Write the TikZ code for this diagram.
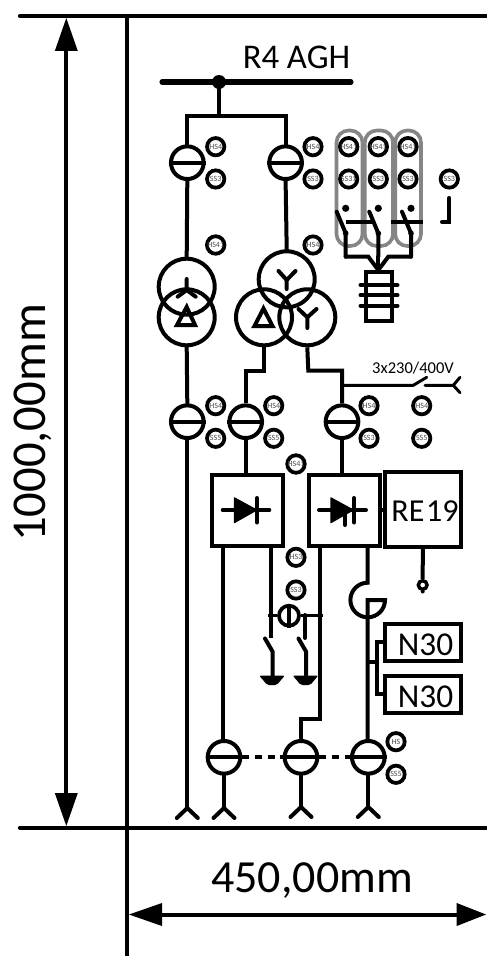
\documentclass[tikz,border=0pt]{standalone}
\usepackage{fontspec}
\setmainfont{Carlito}
\tikzset{
  x=0.75pt,y=-0.75pt,
  wire/.style={line width=3pt,line join=miter,line cap=round},
  frameline/.style={line width=3.2pt,line cap=round},
  tagc/.style={circle,draw,line width=2.8pt,minimum size=13pt,inner sep=0pt,fill=white,font=\fontsize{6}{6}\selectfont,text=black!70},
  brk/.style={circle,draw,line width=3pt,minimum size=24.5pt,inner sep=0pt,fill=white},
  xfmr/.style={circle,draw,line width=3pt,minimum size=42pt,inner sep=0pt},
  panel/.style={draw,line width=3pt,fill=white,inner sep=0pt,outer sep=0pt,anchor=north west},
  grp/.style={draw=black!48,line width=2.7pt,rounded corners=9pt},
}
\newcommand{\fork}[2]{\draw[wire] (#1-10.5,#2+10) -- (#1,#2) -- (#1+10.5,#2+10);}
\newcommand{\gnd}[2]{\fill[rounded corners=1.5pt] (#1-13,#2-1.5) -- (#1+13,#2-1.5) -- (#1+8,#2+4) -- (#1+5,#2+8) -- (#1-5,#2+8) -- (#1-8,#2+4) -- cycle;}
\begin{document}
\begin{tikzpicture}
\useasboundingbox (0,0) rectangle (486,956);
% frame
\coordinate (fl) at (20,16); \coordinate (fr) at (486,16);
\coordinate (bl) at (20,827.7); \coordinate (br) at (486,827.7);
\coordinate (vt) at (127,16); \coordinate (vb) at (127,956);
\draw[frameline] (fl) -- (fr);
\draw[frameline] (bl) -- (br);
\draw[line width=3.2pt] (vt) -- (vb);
% dimensions
\coordinate (dt) at (66.3,18); \coordinate (db) at (66.3,826);
\coordinate (dl) at (129,914.5); \coordinate (dr) at (486,914.5);
\draw[line width=3pt] (66.3,40) -- (66.3,800);
\fill (dt) -- (77.8,51) -- (54.8,51) -- cycle;
\fill (db) -- (77.8,793) -- (54.8,793) -- cycle;
\draw[line width=3pt] (150,914.5) -- (465,914.5);
\fill (dl) -- (162,903) -- (162,926) -- cycle;
\fill (dr) -- (456.7,903) -- (456.7,926) -- cycle;
\node[rotate=90,font=\fontsize{36.5}{40}\selectfont,inner sep=0pt] (t1000) at (33,423) {1000,00mm};
\node[font=\fontsize{34.5}{40}\selectfont,inner sep=0pt] (t450) at (312,881) {450,00mm};
\node[font=\fontsize{26}{28}\selectfont,inner sep=0pt] (tr4) at (296.5,57.5) {R4 AGH};
% grey groups
\draw[grp] (336.5,130.5) rectangle (362.5,246);
\draw[grp] (364.8,130.5) rectangle (393,246);
\draw[grp] (395.2,130.5) rectangle (421,246);
% bus
\coordinate (busl) at (162,82); \coordinate (busr) at (351,82);
\draw[line width=3.8pt,line cap=round] (busl) -- (busr);
\node[circle,fill,minimum size=10.5pt,inner sep=0pt] (busdot) at (219,82) {};
\coordinate (spl) at (187.3,116); \coordinate (spr) at (285.6,116); \coordinate (spm) at (219,116);
\draw[wire] (busdot) -- (spm);
\draw[wire,line cap=butt] (187.3,163) -- (spl) -- (spr) -- (285.6,163);
% transformers
\node[xfmr] (tl1) at (186.7,286.7) {};
\node[xfmr] (tl2) at (186.7,317.3) {};
\node[xfmr] (tr1) at (286.7,279.3) {};
\node[xfmr] (tr2) at (264,317.3) {};
\node[xfmr] (tr3) at (307.3,317.3) {};
% breakers
\node[brk] (b1) at (187.3,162.7) {};
\node[brk] (b2) at (285.6,162.7) {};
\node[brk] (b3) at (187.3,421.7) {};
\node[brk] (b4) at (245.7,421.7) {};
\node[brk] (b5) at (342,421.7) {};
\node[brk] (b6) at (224,757.3) {};
\node[brk] (b7) at (301,757.3) {};
\node[brk] (b8) at (368.3,757.3) {};
\foreach \b in {b1,b2,b3,b4,b5,b6,b7,b8}{\draw[wire,line cap=butt] (\b.west) -- (\b.east);}
\draw[wire] (b1.south) -- (tl1.north);
\draw[wire] (b2.south) -- (tr1.north);
\draw[wire] (tl2.south) -- (b3.north);
\draw[wire,line cap=butt] (tr2.south) -- (264,370.7) -- (245.7,370.7) -- (b4.north);
\draw[wire,line cap=butt] (tr3.south) -- (308.3,370.7) -- (342,370.7) -- (b5.north);
% winding symbols
\draw[wire] (186.7,279) -- (186.7,290) (177.7,296.7) -- (186.7,290) -- (195.7,296.7);
\draw[wire] (186.7,307) -- (177,325) -- (195,325) -- cycle;
\draw[wire] (278.5,271) -- (286.7,280) -- (295.5,271) (286.7,280) -- (286.7,289);
\draw[wire] (298.5,309) -- (307.3,317.3) -- (316.5,309) (307.3,317.3) -- (307.3,328);
\draw[wire] (263.5,308.5) -- (254.5,326) -- (272.5,326) -- cycle;
% LV branch
\coordinate (tap) at (342,385.3); \coordinate (swa) at (413.3,385.3); \coordinate (swb) at (426.7,377.3);
\coordinate (swc) at (425,385.3); \coordinate (swd) at (453.3,385.3);
\draw[line width=2.2pt,line cap=round] (tap) -- (swa) -- (swb);
\draw[line width=2.2pt,line cap=round] (swc) -- (swd) (460,377.3) -- (swd) -- (460,392.7);
\node[font=\fontsize{12.4}{14}\selectfont,inner sep=0pt] (t3x) at (413,368) {3x230/400V};
% main feed lines
\node[panel,minimum width=53.7pt,minimum height=53.2pt] (p1) at (211.7,475) {};
\node[panel,minimum width=53.3pt,minimum height=53.2pt] (p2) at (309,475) {};
\node[panel,minimum width=56.7pt,minimum height=56.2pt] (p3) at (385,472.3) {};
\node[font=\fontsize{24}{28}\selectfont,inner sep=0pt] (tre) at (425,511.5) {RE\kern1.2pt19};
\node[panel,minimum width=56.7pt,minimum height=27.8pt] (n1) at (385,624) {};
\node[panel,minimum width=56.7pt,minimum height=28pt] (n2) at (385,676) {};
\node[font=\fontsize{25}{28}\selectfont,inner sep=0pt] (tn1) at (425.5,644.5) {N30};
\node[font=\fontsize{25}{28}\selectfont,inner sep=0pt] (tn2) at (425.5,696.5) {N30};
\draw[wire] (b3.south) -- (187.3,808);
\fork{187.3}{808}
\draw[wire,line cap=butt] (b4.south) -- (245.7,475);
\draw[wire,line cap=butt] (b5.south) -- (342,475);
% diodes
\draw[wire] (222.7,510) -- (269.3,510);
\fill[draw,line width=1pt,line join=round] (234.5,498) -- (234.5,522.5) -- (256.5,510) -- cycle;
\draw[wire] (257,498) -- (257,522.5);
\draw[wire] (319,510) -- (366,510);
\fill[draw,line width=1pt,line join=round] (331,498) -- (331,522.5) -- (353,510) -- cycle;
\draw[wire] (354,498) -- (354,522.5);
\draw[wire] (345,515) -- (345,525);
\draw[wire,line cap=butt] (p2.east) -- (p3.west |- p2.east);
% below panels
\draw[wire,line cap=butt] (223.3,546) -- (223.3,741);
\draw[wire] (b6.south) -- (224,808); \fork{224}{808}
\draw[wire,line cap=butt] (320,546) -- (320,719) -- (301,719) -- (b7.north);
\draw[wire] (b7.south) -- (301,808); \fork{301}{807}
\draw[wire] (b8.south) -- (368.3,808); \fork{368.3}{807}
% protective earthing part
\node[circle,draw,line width=2.8pt,minimum size=15pt,inner sep=0pt,fill=white] (ev) at (289,615.7) {};
\draw[wire,line cap=butt] (ev.north) -- (ev.south);
\coordinate (ea) at (268,615.7); \coordinate (eb) at (322.7,615.7);
\draw[line width=2.2pt] (ea) -- (ev.west) (ev.east) -- (eb);
\draw[wire,line cap=butt] (271,546) -- (271,638);
\draw[wire] (305,615) -- (305,638);
\draw[wire] (265,638.5) -- (272.5,651.5) -- (272.5,677);
\draw[wire] (298.5,638.5) -- (306,651.5) -- (306,677);
\gnd{272}{677} \gnd{305.5}{677}
% hook
\draw[wire,line cap=butt] (367.7,546) -- (367.7,582.7) arc[start angle=270,end angle=90,radius=17.3];
\draw[wire,line cap=butt,line join=miter] (367.7,741) -- (367.7,600) -- (385,600) arc[start angle=0,end angle=90,radius=17.3];
% N30 bracket
\draw[wire,line cap=butt] (367.7,661.7) -- (376.7,661.7);
\draw[wire,line cap=butt] (n1.west |- 0,641.7) -- (376.7,641.7) -- (376.7,694.3) -- (n2.west |- 0,694.3);
% RE19 stem
\node[circle,draw,line width=2.6pt,minimum size=6.5pt,inner sep=0pt] (ring) at (422.7,585) {};
\draw[wire,line cap=butt] (p3.south) ++(0,0) -- (ring.north);
\fill (422.7,591.5) circle[radius=2];
% dashed coupling
\draw[line width=3pt,dash pattern=on 5.2pt off 4.3pt] (b6.east) -- (b7.west);
\draw[line width=3pt,dash pattern=on 5.2pt off 4.3pt] (b7.east) -- (b8.west);
% CT and switches
\foreach \x in {345.7,378.3,411}{
  \fill (\x,208.3) circle[radius=3.6];
  \draw[wire] (\x-9,211.7) -- (\x,233.3) -- (\x,256.7);
  \fill (\x,233.3) circle[radius=2.8];
}
\draw[wire,line cap=butt] (345.7,222.3) -- (371.7,222.3);
\draw[wire,line cap=butt] (390.7,222.3) -- (422.7,222.3);
\draw[wire] (345.7,256.7) -- (368.3,256.7) -- (378.3,270) -- (388.3,256.7) -- (411,256.7);
\draw[wire] (378.3,256.7) -- (378.3,270);
\node[draw,line width=3pt,minimum width=19.5pt,minimum height=37pt,inner sep=0pt,outer sep=0pt] (ct) at (378.7,296.3) {};
\foreach \y in {285,295.3,305.7}{\draw[wire] (360.5,\y) -- (397.5,\y);}
\coordinate (ja) at (449.3,198); \coordinate (jb) at (449.3,222); \coordinate (jc) at (442,222);
\draw[wire] (ja) -- (jb) -- (jc);
% tags
\foreach \n/\x/\y/\t in {
 h1/215.7/146.7/HS4,s1/215.7/179/SS3,h2/313/146.7/HS4,s2/313/179/SS3,
 h3/215.7/245/HS41,h4/313/245/HS4,
 h5/348.7/146.7/HS41,h6/378.3/146.7/HS41,h7/408/146.7/HS41,
 s5/348.7/179/SS31,s6/378.3/179/SS3,s7/408/179/SS3,s8/449.3/179/SS3,
 h8/215.7/405.7/HS4,s9/215.7/438.3/SS5,h9/273.7/405.7/HS4,s10/273.7/438.3/SS5,
 h10/369/405.7/HS4,s11/369/438.3/SS3,h11/421.7/405.7/HS4,s12/421.7/438.3/SS5,
 h12/296/464/HS41,h13/296/557.3/HS3,s13/296/590/SS3,
 h14/396/741.7/HS,s14/396/774.3/SS5}{
  \node[tagc] (\n) at (\x,\y) {\t};
}
\end{tikzpicture}
\end{document}
